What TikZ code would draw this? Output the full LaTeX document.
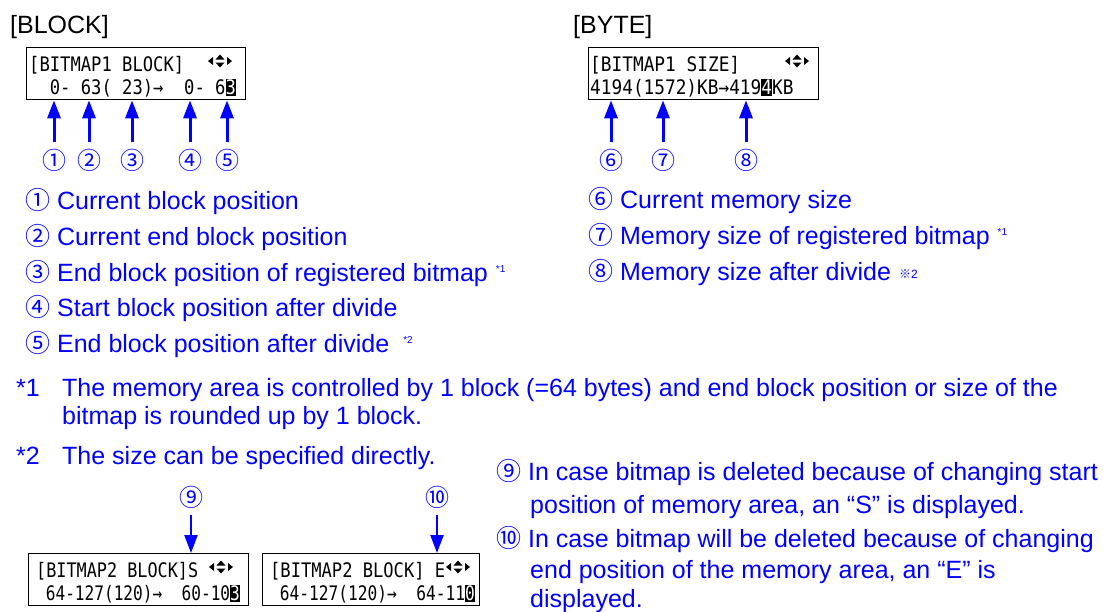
\documentclass[tikz,border=0pt]{standalone}
\usepackage{fontspec}
\usepackage{graphicx}
\setmainfont{Liberation Sans}
\newfontfamily\cjk{Noto Sans CJK JP}
\newfontfamily\lcdfont{DejaVu Sans Mono}
\usetikzlibrary{arrows.meta}
\newcommand\lcdw[2]{\resizebox{#1pt}{\height}{\lcdfont\fontsize{20}{20}\selectfont #2}}
\newcommand\fnmark[1]{\raisebox{9pt}{\fontsize{10}{10}\selectfont #1}}
\tikzset{
  hdr/.style={text=black, font=\fontsize{25}{30}\selectfont, inner sep=0, anchor=base west},
  lbl/.style={text=blue, font=\fontsize{25}{30}\selectfont, inner sep=0, anchor=base west},
  cnum/.style={text=blue, font=\cjk\fontsize{24}{24}\selectfont, inner sep=0, minimum height=36pt},
  lcdbox/.style={draw=black, line width=1.3pt, anchor=north west, inner sep=0},
  lcd/.style={text=black, inner sep=0, anchor=base west},
  inv/.style={fill=black, text=white, inner sep=0, anchor=base west, text height=15pt, text depth=2pt},
  uparr/.style={draw=blue, line width=3pt, -{Triangle[length=18pt,width=13pt]}},
  dnarr/.style={draw=blue, line width=2.2pt, -{Triangle[length=18pt,width=13pt]}},
  lcdicon/.pic={
    \fill (-12,0) -- (-7,-4) -- (-7,4) -- cycle;
    \fill (-4.5,-1.5) -- (4.5,-1.5) -- (0,-6.5) -- cycle;
    \fill (-4.5,1.5) -- (4.5,1.5) -- (0,6.5) -- cycle;
    \fill (12,0) -- (7,-4) -- (7,4) -- cycle;
  }
}
\begin{document}
\begin{tikzpicture}[x=1pt,y=-1pt]
\useasboundingbox (0,0) rectangle (1103,611);

% headers
\node[hdr] (hblock) at (10,33) {[BLOCK]};
\node[hdr] (hbyte) at (573,33) {[BYTE]};

% LCD box 1
\node[lcdbox, minimum width=219pt, minimum height=52pt] (box1) at (26,47) {};
\node[lcd] (b1a) at (29,71) {\lcdw{155}{[BITMAP1~BLOCK]}};
\node[lcd] (b1b) at (29,94) {\lcdw{196.3}{~~0-~63(~23)→~~0-~6}};
\node[inv] (b1c) at (225.3,94) {\lcdw{10.3}{3}};
\pic at (220,61) {lcdicon};

% LCD box 2
\node[lcdbox, minimum width=230pt, minimum height=52pt] (box2) at (588,47) {};
\node[lcd] (b2a) at (590,71) {\lcdw{150}{[BITMAP1~SIZE]}};
\node[lcd] (b2b) at (590,94) {\lcdw{171.2}{4194(1572)KB→419}};
\node[inv] (b2c) at (761.2,94) {\lcdw{10.7}{4}};
\node[lcd] (b2d) at (771.9,94) {\lcdw{21.4}{KB}};
\pic at (797,61) {lcdicon};

% circled numbers + arrows (top)
\node[cnum] (n1) at (54,160) {①};
\node[cnum] (n2) at (89,160) {②};
\node[cnum] (n3) at (132,160) {③};
\node[cnum] (n4) at (190,160) {④};
\node[cnum] (n5) at (227,160) {⑤};
\node[cnum] (n6) at (611,160) {⑥};
\node[cnum] (n7) at (663,160) {⑦};
\node[cnum] (n8) at (746,160) {⑧};
\foreach \n/\b in {n1/box1,n2/box1,n3/box1,n4/box1,n5/box1,n6/box2,n7/box2,n8/box2}
  \draw[uparr] (\n.north) -- (\n.north |- \b.south);

% descriptions left
\node[lbl] (d1) at (25,209) {{\cjk ①} Current block position};
\node[lbl] (d2) at (25,245) {{\cjk ②} Current end block position};
\node[lbl] (d3) at (25,281) {{\cjk ③} End block position of registered bitmap\hspace{8pt}\fnmark{*1}};
\node[lbl] (d4) at (25,316) {{\cjk ④} Start block position after divide};
\node[lbl] (d5) at (25,352) {{\cjk ⑤} End block position after divide\hspace{14pt}\fnmark{*2}};

% descriptions right
\node[lbl] (d6) at (588,208) {{\cjk ⑥} Current memory size};
\node[lbl] (d7) at (588,244) {{\cjk ⑦} Memory size of registered bitmap\hspace{8pt}\fnmark{*1}};
\node[lbl] (d8) at (588,280) {{\cjk ⑧} Memory size after divide\hspace{8pt}\raisebox{2pt}{\fontsize{12}{12}\selectfont{\cjk ※}2}};

% footnotes
\node[lbl] (f1m) at (16,396) {*1};
\node[lbl] (f1a) at (62,396) {The memory area is controlled by 1 block (=64 bytes) and end block position or size of the};
\node[lbl] (f1b) at (62,424) {bitmap is rounded up by 1 block.};
\node[lbl] (f2m) at (16,464) {*2};
\node[lbl] (f2a) at (62,464) {The size can be specified directly.};

% LCD box 3
\node[lcdbox, minimum width=220pt, minimum height=52pt] (box3) at (28,553) {};
\node[lcd] (b3a) at (36,577) {\lcdw{162}{[BITMAP2~BLOCK]S}};
\node[lcd] (b3b) at (36,600) {\lcdw{194}{~64-127(120)→~~60-10}};
\node[inv] (b3c) at (230,600) {\lcdw{9.7}{3}};
\pic at (221,567) {lcdicon};

% LCD box 4
\node[lcdbox, minimum width=217pt, minimum height=52pt] (box4) at (262,553) {};
\node[lcd] (b4a) at (270,577) {\lcdw{175}{[BITMAP2~BLOCK]~E}};
\node[lcd] (b4b) at (270,600) {\lcdw{195}{~64-127(120)→~~64-11}};
\node[inv] (b4c) at (465,600) {\lcdw{9.75}{0}};
\pic at (458,567) {lcdicon};

% circled numbers + arrows (bottom)
\node[cnum] (n9) at (191,497) {⑨};
\node[cnum] (n10) at (437,497) {⑩};
\draw[dnarr] (n9.south) -- (n9.south |- box3.north);
\draw[dnarr] (n10.south) -- (n10.south |- box4.north);

% descriptions bottom right
\node[lbl] (e1) at (496,480) {{\cjk ⑨} In case bitmap is deleted because of changing start};
\node[lbl] (e2) at (530,513) {position of memory area, an “S” is displayed.};
\node[lbl] (e3) at (496,547) {{\cjk ⑩} In case bitmap will be deleted because of changing};
\node[lbl] (e4) at (530,578) {end position of the memory area, an “E” is};
\node[lbl] (e5) at (530,607) {displayed.};
\end{tikzpicture}
\end{document}
